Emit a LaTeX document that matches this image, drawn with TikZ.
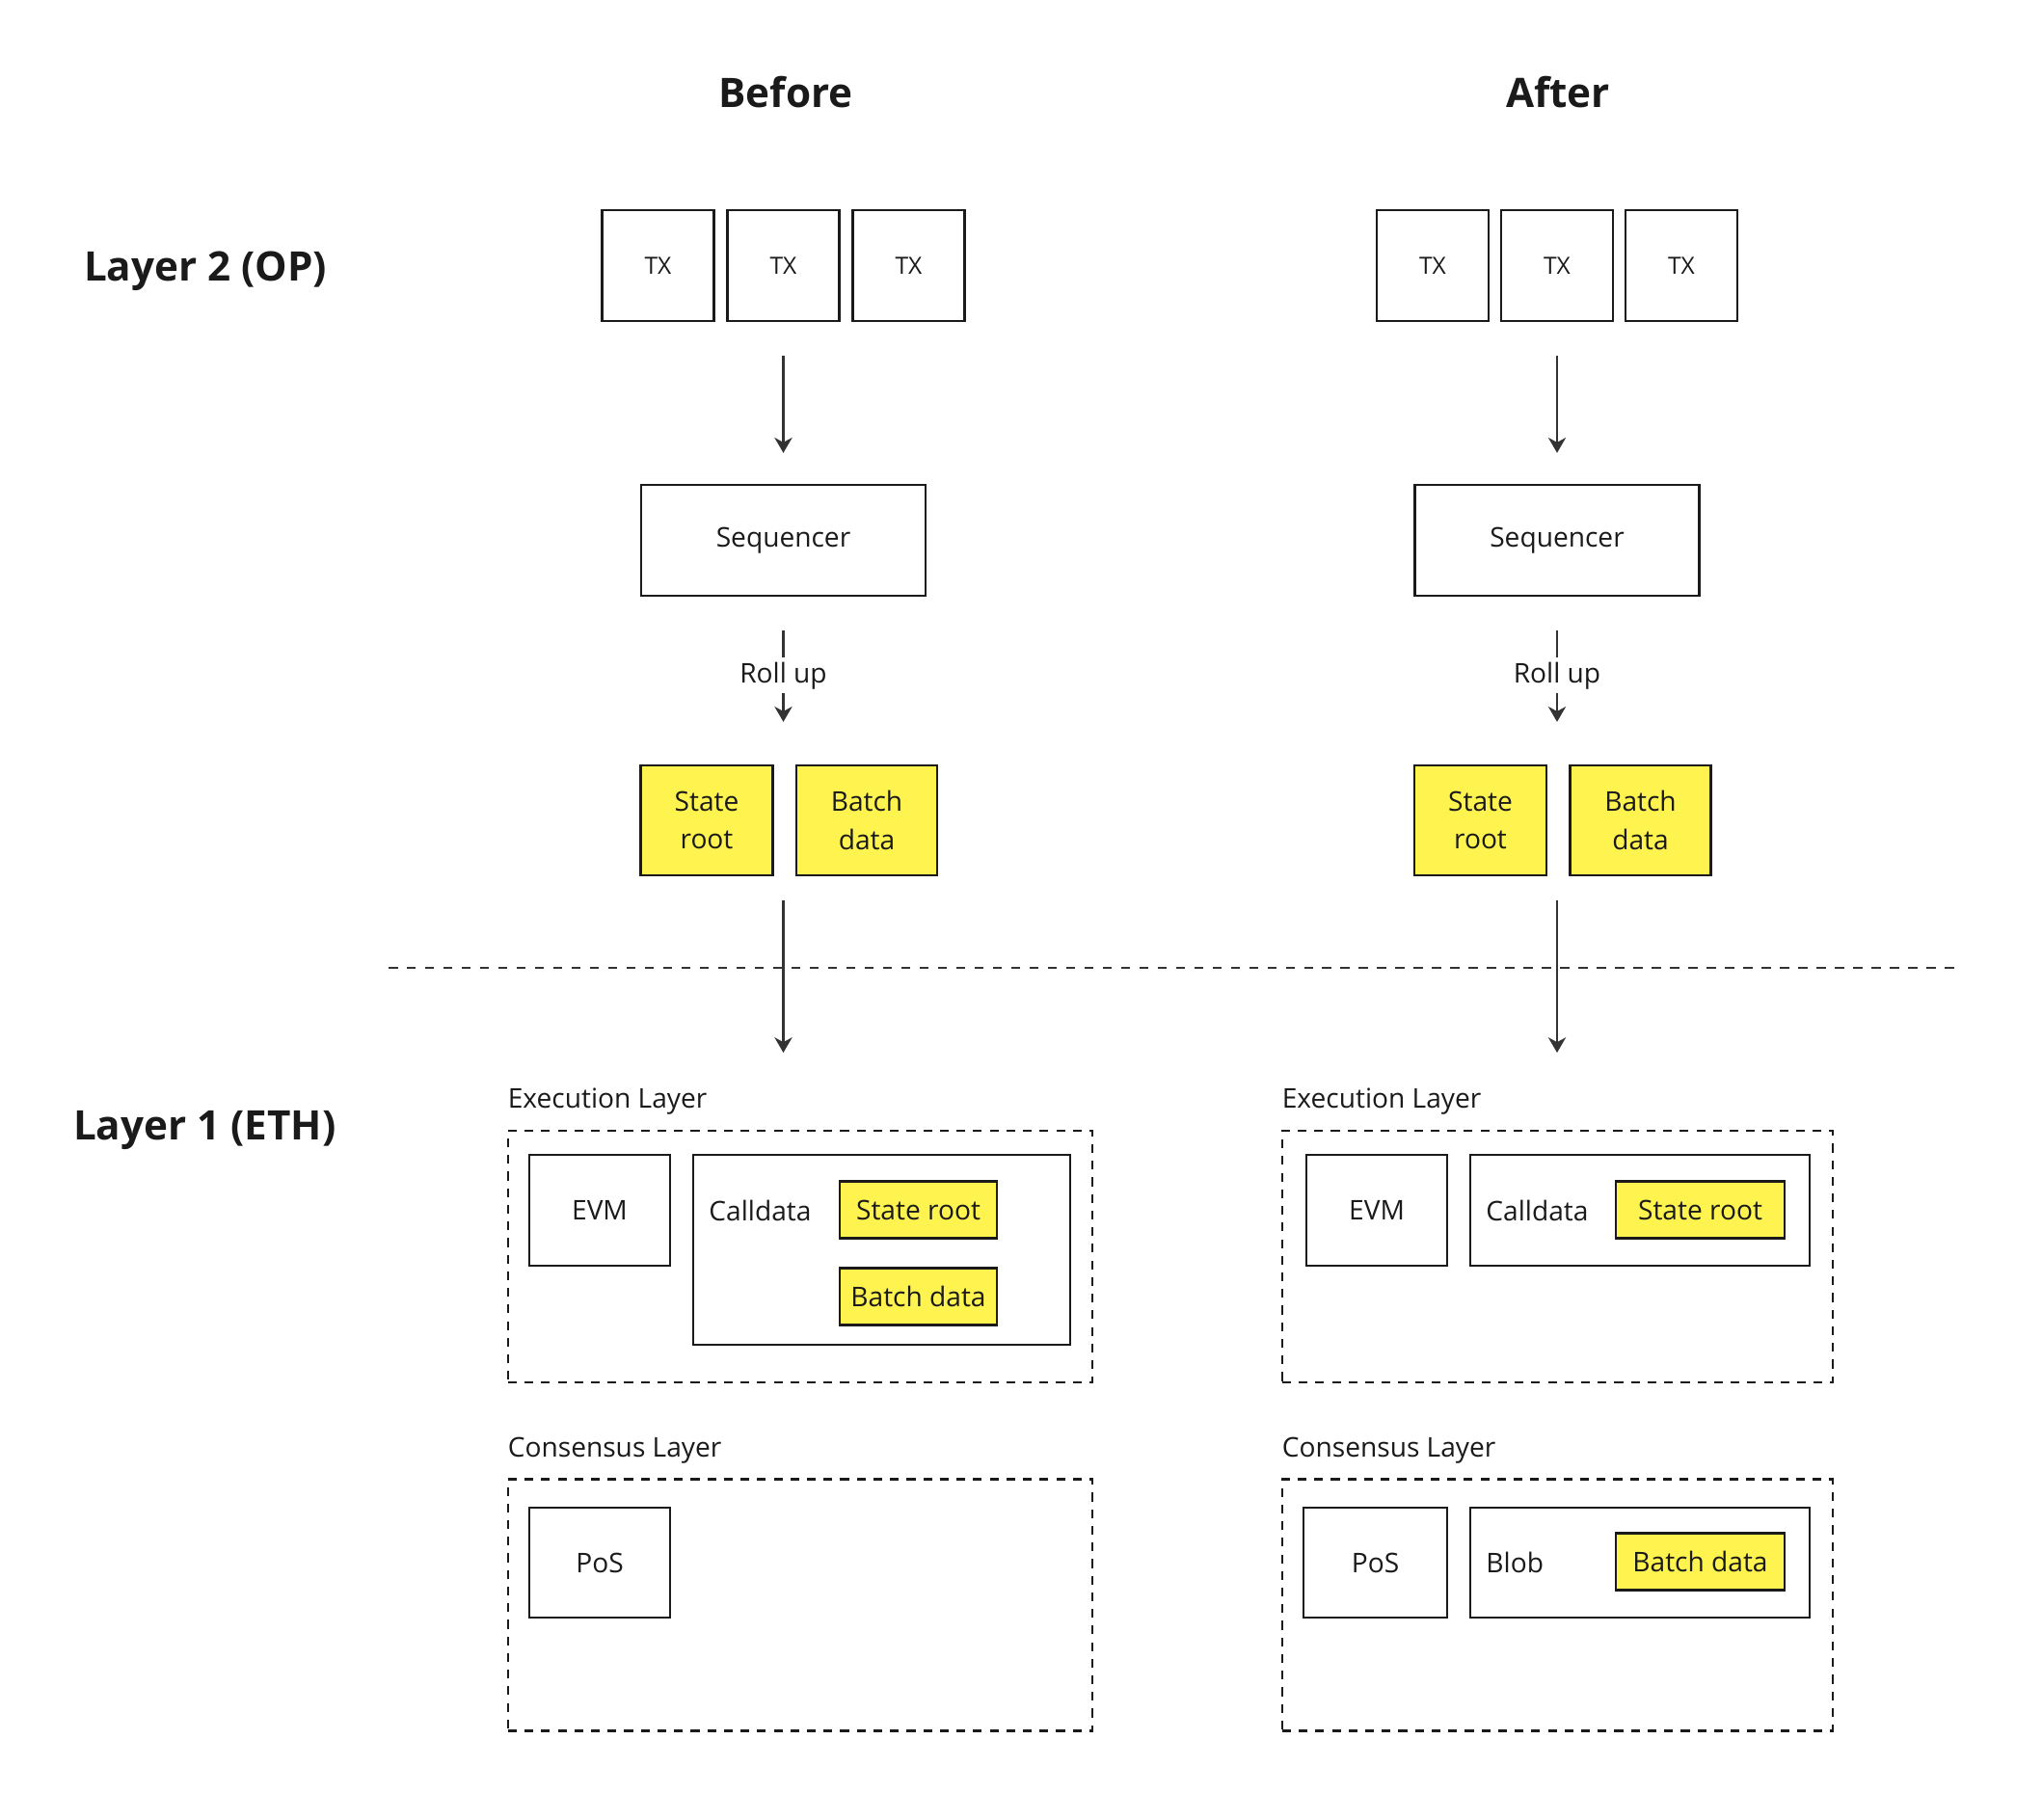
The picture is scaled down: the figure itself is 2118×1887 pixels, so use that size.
\documentclass[tikz,border=0pt]{standalone}
\usepackage{fontspec}
\setmainfont{Open Sans}
\usetikzlibrary{arrows.meta,positioning}
\definecolor{ink}{HTML}{1A1A1A}
\definecolor{wire}{HTML}{333333}
\definecolor{notefill}{HTML}{FFF44F}
\begin{document}
\begin{tikzpicture}
  [x=0.01cm,y=-0.01cm,
   every node/.style={draw=ink,line width=0.65pt,text=ink,inner sep=0pt,align=center,
     font=\fontsize{8}{11.3}\selectfont},
   >={Stealth[length=4.5pt,width=5.2pt,inset=1.4pt]}]
  \tikzstyle{heading} = [draw=none,font=\fontsize{12}{15}\selectfont\bfseries]
  \tikzstyle{tag} = [draw=none,anchor=base west]
  \tikzstyle{rolltag} = [draw=none,fill=white,inner sep=1.3pt]
  \tikzstyle{tx} = [minimum width=1.16cm,minimum height=1.15cm,font=\fontsize{7}{9}\selectfont]
  \tikzstyle{stage} = [minimum width=2.95cm,minimum height=1.15cm]
  \tikzstyle{notebox} = [fill=notefill]
  \tikzstyle{layerbox} = [dash pattern=on 2.6pt off 2.3pt,minimum height=2.61cm]
  \tikzstyle{flow} = [draw=wire,line width=0.6pt,->]
  \useasboundingbox (0,0) rectangle (2118,1887);

  \node[heading] (before) at (815,96) {Before};
  \node[heading] (after) at (1616,96) {After};
  \node[heading,anchor=west] (l2) at (86,281) {Layer 2 (OP)};
  \node[heading,anchor=west] (l1) at (75,1172) {Layer 1 (ETH)};

\foreach \cx/\s/\gap in {812.5/b/130,1615/a/129} {
  \node[tx] (tx\s1) at (\cx-\gap,275.5) {TX};
  \node[tx] (tx\s2) at (\cx,275.5) {TX};
  \node[tx] (tx\s3) at (\cx+\gap,275.5) {TX};
  \node[stage] (seq\s) at (\cx,560.5) {Sequencer};
  \node[notebox,minimum width=1.37cm,minimum height=1.14cm] (root\s) at (\cx-79.5,851) {State\\root};
  \node[notebox,minimum width=1.46cm,minimum height=1.14cm] (batch\s) at (\cx+86.5,851) {Batch\\data};
  \coordinate (roll\s) at (seq\s.south |- root\s.north);
  \coordinate (lift\s) at (seq\s.south |- root\s.south);
  \coordinate (drop\s) at (\cx,1092);
  \draw[flow,shorten <=0.35cm,shorten >=0.32cm] (tx\s2) -- (seq\s);
  \draw[flow,shorten <=0.35cm,shorten >=0.44cm] (seq\s) -- node[rolltag,pos=0.47] {Roll up} (roll\s);
  \draw[flow,shorten <=0.25cm] (lift\s) -- (drop\s);
}

  \draw[draw=wire,line width=0.5pt,dash pattern=on 2.7pt off 2.7pt] (403,1004) -- (2028,1004);

  % before
  \node[layerbox,minimum width=6.06cm] (execb) at (830,1303.5) {};
  \node[tag] (execlabb) at ([yshift=0.22cm]execb.north west) {Execution Layer};
  \node[minimum width=1.46cm,minimum height=1.15cm] (evmb) at (622,1255.5) {EVM};
  \node[minimum width=3.91cm,minimum height=1.97cm] (callb) at (914.5,1296.5) {};
  \node[draw=none,anchor=west] (calltxtb) at ([xshift=0.165cm]callb.west |- evmb) {Calldata};
  \node[notebox,minimum width=1.63cm,minimum height=0.59cm] (srb) at (952.5,1255) {State root};
  \node[notebox,minimum width=1.63cm,minimum height=0.59cm] (bdb) at (952.5,1345) {Batch data};
  \node[layerbox,minimum width=6.06cm] (consb) at (830,1665) {};
  \node[tag] (conslabb) at ([yshift=0.22cm]consb.north west) {Consensus Layer};
  \node[minimum width=1.46cm,minimum height=1.14cm] (posb) at (622,1621) {PoS};

  % after
  \node[layerbox,minimum width=5.71cm] (execa) at (1615.5,1303.5) {};
  \node[tag] (execlaba) at ([yshift=0.22cm]execa.north west) {Execution Layer};
  \node[minimum width=1.46cm,minimum height=1.15cm] (evma) at (1428,1255.5) {EVM};
  \node[minimum width=3.52cm,minimum height=1.15cm] (calla) at (1701,1255.5) {};
  \node[draw=none,anchor=west] (calltxta) at ([xshift=0.165cm]calla.west) {Calldata};
  \node[notebox,minimum width=1.75cm,minimum height=0.59cm] (sra) at (1763.5,1255) {State root};
  \node[layerbox,minimum width=5.71cm] (consa) at (1615.5,1665) {};
  \node[tag] (conslaba) at ([yshift=0.22cm]consa.north west) {Consensus Layer};
  \node[minimum width=1.49cm,minimum height=1.14cm] (posa) at (1426.5,1621) {PoS};
  \node[minimum width=3.52cm,minimum height=1.14cm] (bloba) at (1701,1621) {};
  \node[draw=none,anchor=west] (blobtxta) at ([xshift=0.165cm]bloba.west) {Blob};
  \node[notebox,minimum width=1.75cm,minimum height=0.59cm] (bda) at (1763.5,1620) {Batch data};
\end{tikzpicture}
\end{document}
